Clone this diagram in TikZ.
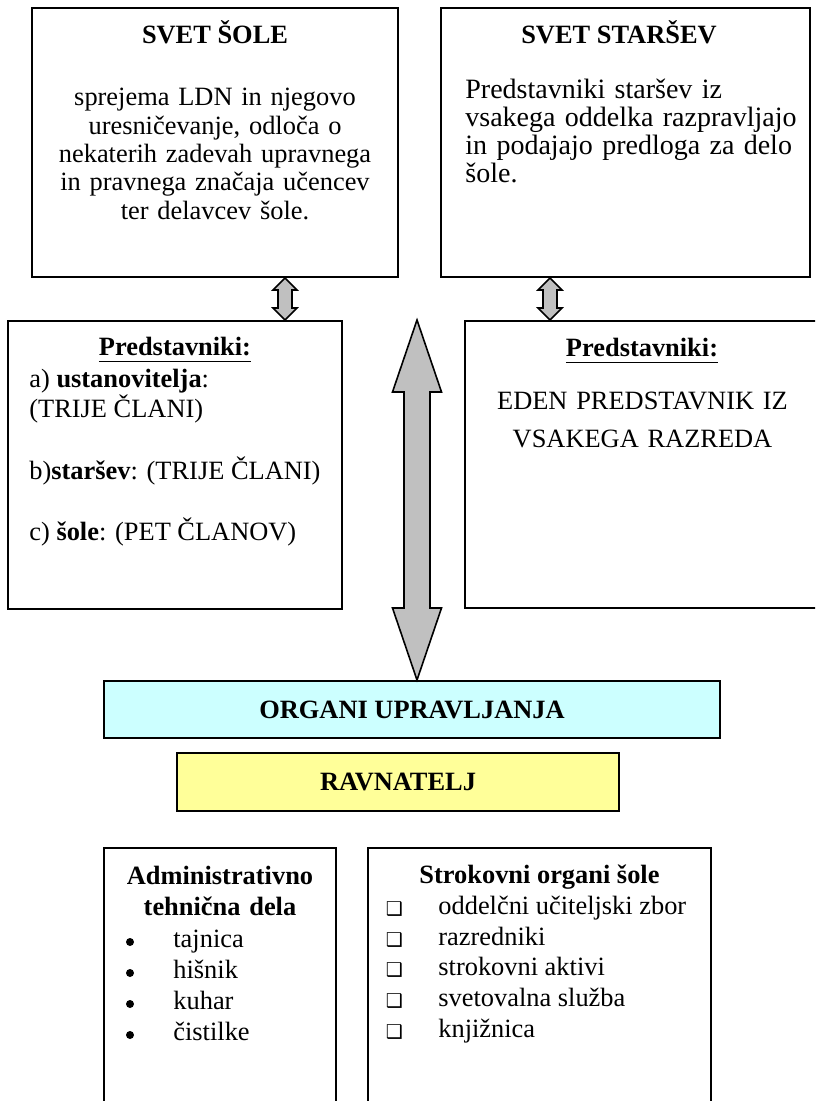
\documentclass[tikz,border=0pt]{standalone}
\usepackage{fontspec}
\setmainfont{Liberation Serif}
\newfontfamily\symfont{DejaVu Sans}
\usetikzlibrary{calc}

\definecolor{organicyan}{HTML}{CCFFFF}
\definecolor{ravyellow}{HTML}{FFFF99}
\definecolor{arrowgray}{HTML}{C0C0C0}

% block arrow with two heads: top tip, bottom tip, half shaft, half head, head length
\newcommand{\dblarrow}[5]{%
  \filldraw[blockarrow] (#1) -- ++(#4,#5) -- ++(#3-#4,0) -- ($(#2)+(#3,-#5)$)
    -- ++(#4-#3,0) -- (#2) -- ++(-#4,-#5) -- ++(#4-#3,0) -- ($(#1)+(-#3,#5)$)
    -- ++(#3-#4,0) -- cycle;}

\begin{document}
\begin{tikzpicture}[x=0.5pt, y=-0.5pt,
    panel/.style={draw, line width=1pt, inner sep=0pt},
    txt/.style={inner sep=0pt, font=\fontsize{13.2}{14.15}\selectfont},
    title/.style={inner sep=0pt, font=\fontsize{13.2}{15.5}\selectfont\bfseries},
    item/.style={txt, anchor=base west},
    dot/.style={circle, fill=black, inner sep=0pt, minimum size=4pt},
    blockarrow/.style={fill=arrowgray, draw=black, line width=0.8pt, line join=miter}]
  \useasboundingbox (0,0) rectangle (815,1101);
  \clip (0,0) rectangle (815,1101);

  % boxes
  \node[panel, minimum width=183pt, minimum height=134.5pt] (ssole) at (215,142.5) {};
  \node[panel, minimum width=184.5pt, minimum height=134.5pt] (sstarsev) at (625.5,142.5) {};
  \node[panel, minimum width=167pt, minimum height=144pt] (predL) at (175,465) {};
  \node[panel, minimum width=187.5pt, minimum height=143.5pt] (predR) at (652.5,464.5) {};
  \node[panel, fill=organicyan, minimum width=308pt, minimum height=28.5pt,
        font=\fontsize{13.2}{15}\selectfont\bfseries] (organi) at (412,709.5) {ORGANI UPRAVLJANJA};
  \node[panel, fill=ravyellow, minimum width=221pt, minimum height=29pt,
        font=\fontsize{13.2}{15}\selectfont\bfseries] (ravnatelj) at (398,782) {RAVNATELJ};
  \node[panel, minimum width=116pt, minimum height=136pt] (admin) at (220,984) {};
  \node[panel, minimum width=171.5pt, minimum height=136pt] (strok) at (539.5,984) {};

  % texts in the boxes
  \node[title, anchor=base] (ssoleT) at (215,44) {SVET ŠOLE};
  \node[txt, anchor=base, text width=175pt, align=center] (ssoleB) at (215,106)
    {sprejema LDN in njegovo\\uresničevanje, odloča o\\nekaterih zadevah upravnega\\in pravnega značaja učencev\\ter delavcev šole.};
  \node[title, anchor=base] (sstarsevT) at (619,44) {SVET STARŠEV};
  \node[txt, anchor=base west, text width=172pt, align=left, font=\fontsize{14}{14}\selectfont] (sstarsevB) at (465,99)
    {Predstavniki staršev iz\\vsakega oddelka razpravljajo\\in podajajo predloga za delo\\šole.};

  \node[title, anchor=base] (predLT) at (175,355) {\underline{Predstavniki:\rule[-1.6pt]{0pt}{0pt}}};
  \foreach \y/\t in {387/{a) \textbf{ustanovitelja}:}, 417/{(TRIJE ČLANI)},
                     479/{b)\textbf{staršev}: (TRIJE ČLANI)}, 540/{c) \textbf{šole}: (PET ČLANOV)}}
    \node[item] (pl\y) at (29,\y) {\t};

  \node[title, anchor=base] (predRT) at (642,356) {\underline{Predstavniki:\rule[-1.6pt]{0pt}{0pt}}};
  \node[txt, anchor=base, text width=170pt, align=center, font=\fontsize{13.2}{19.3}\selectfont] (predRB) at (642.5,409)
    {EDEN PREDSTAVNIK IZ\\VSAKEGA RAZREDA};

  \node[title, anchor=base, text width=110pt, align=center] (adminT) at (220,884) {Administrativno\\tehnična dela};
  \foreach \t [count=\i] in {tajnica, hišnik, kuhar, čistilke} {
    \node[dot] (ab\i) at (130,911+31*\i) {};
    \node[item] (at\i) at (173,916+31*\i) {\t};
  }

  \node[title, anchor=base] (strokT) at (539.5,883) {Strokovni organi šole};
  \foreach \t [count=\i] in {oddelčni učiteljski zbor, razredniki, strokovni aktivi, svetovalna služba, knjižnica} {
    \node[inner sep=0pt, anchor=base, font=\symfont\fontsize{9.5}{10}\selectfont] (sb\i) at (394.5,885+30.6*\i) {❑};
    \node[item] (st\i) at (438,884+30.6*\i) {\t};
  }

  % arrows
  \coordinate (lx) at (285,0);
  \coordinate (rx) at (550,0);
  \coordinate (bx) at (417,0);
  \coordinate (ltop) at (ssole.south -| lx);
  \coordinate (lbot) at (predL.north -| lx);
  \coordinate (rtop) at (sstarsev.south -| rx);
  \coordinate (rbot) at (predR.north -| rx);
  \coordinate (btop) at (predL.north -| bx);
  \coordinate (bbot) at (organi.north -| bx);
  \dblarrow{ltop}{lbot}{7}{12}{12}
  \dblarrow{rtop}{rbot}{7}{12}{12}
  \dblarrow{btop}{bbot}{13}{24.5}{72}
\end{tikzpicture}
\end{document}
